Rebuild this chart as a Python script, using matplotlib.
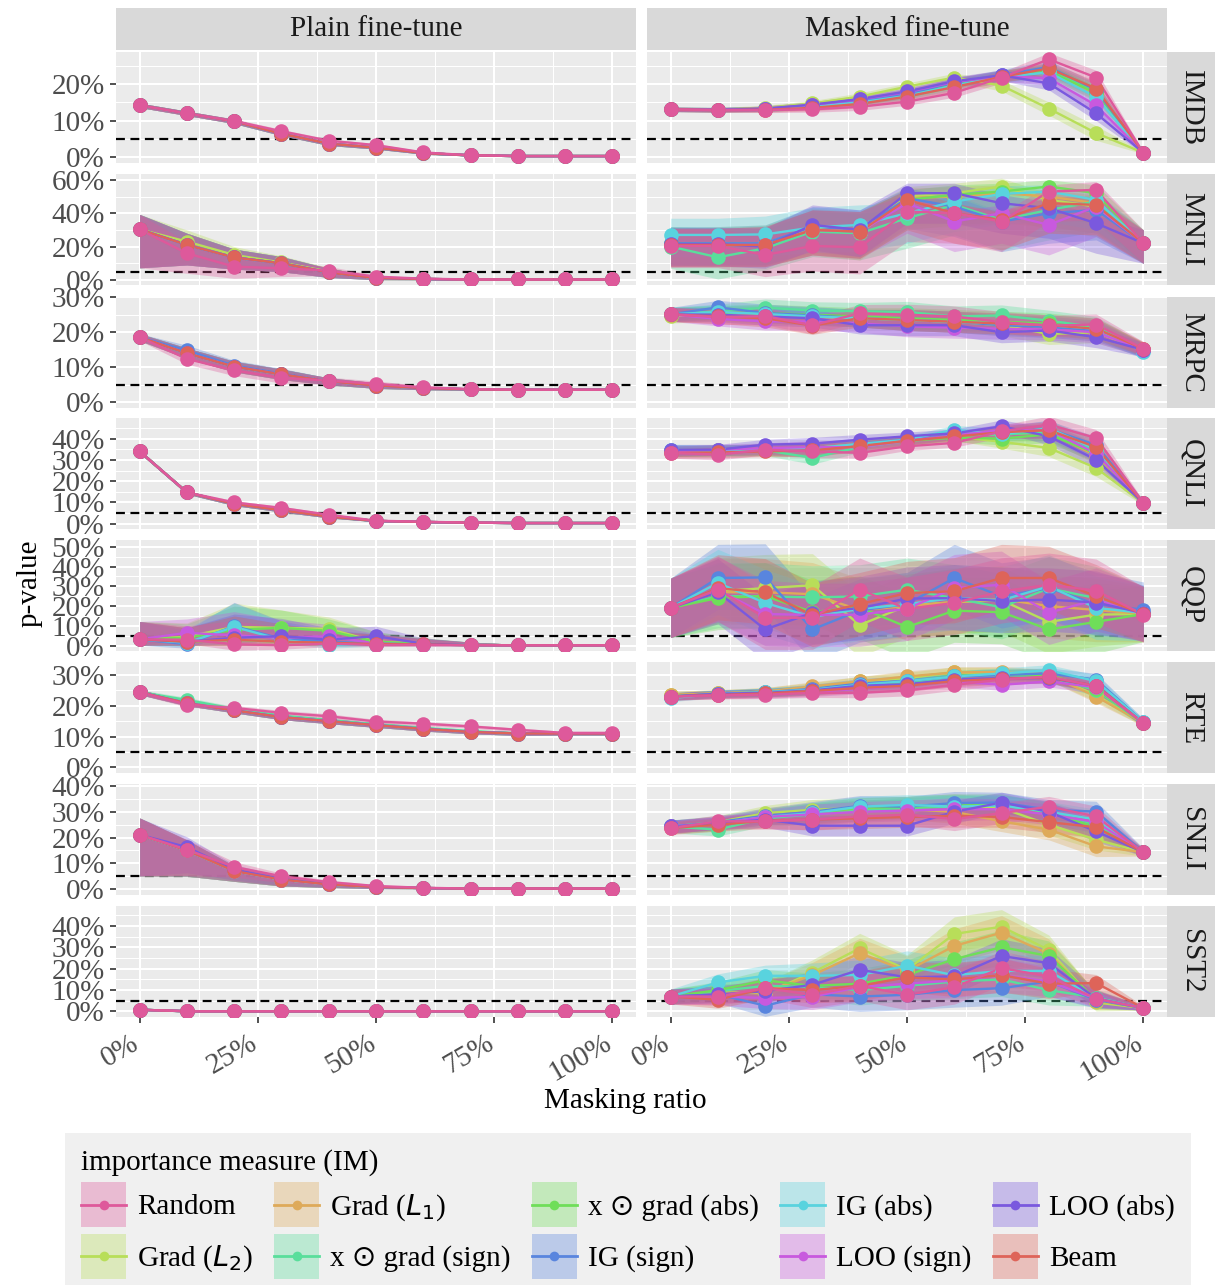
import matplotlib
matplotlib.use('Agg')
import matplotlib.pyplot as plt
import matplotlib.transforms as mtransforms
from matplotlib.patches import Rectangle
from matplotlib.lines import Line2D
from matplotlib.legend_handler import HandlerBase
from matplotlib.ticker import MultipleLocator, FuncFormatter

plt.rcParams['font.family'] = ['Liberation Serif', 'DejaVu Sans']
plt.rcParams['mathtext.fontset'] = 'dejavusans'

# ---- data (p-values in %) ----
masking = [0.0, 0.1, 0.2, 0.3, 0.4, 0.5, 0.6, 0.7, 0.8, 0.9, 1.0]
datasets = ['IMDB', 'MNLI', 'MRPC', 'QNLI', 'QQP', 'RTE', 'SNLI', 'SST2']

im_keys = ['random', 'grad_l2', 'grad_l1', 'xg_sign', 'xg_abs',
           'ig_sign', 'ig_abs', 'loo_sign', 'loo_abs', 'beam']
im_labels = ['Random', 'Grad ($L_2$)', 'Grad ($L_1$)', 'x \u2299 grad (sign)',
             'x \u2299 grad (abs)', 'IG (sign)', 'IG (abs)', 'LOO (sign)',
             'LOO (abs)', 'Beam']
im_colors = ['#DE599B', '#B8DE59', '#DEAA59', '#59DE9B', '#6FDE59',
             '#5985DE', '#59D3DE', '#C859DE', '#7A59DE', '#DE6459']

# plain fine-tune: all measures close to a common curve, a few deviate
plain_base = {
    'IMDB': [14.2, 12.0, 9.8, 6.4, 3.7, 2.6, 1.1, 0.5, 0.3, 0.3, 0.3],
    'MNLI': [30.3, 21.0, 13.5, 10.0, 4.5, 1.2, 0.6, 0.3, 0.3, 0.3, 0.3],
    'MRPC': [18.6, 14.0, 10.2, 8.0, 6.0, 4.8, 4.1, 3.7, 3.6, 3.6, 3.6],
    'QNLI': [34.0, 14.7, 9.3, 6.3, 3.3, 1.3, 0.8, 0.5, 0.3, 0.3, 0.3],
    'QQP': [3.2, 2.0, 3.0, 2.0, 1.5, 0.8, 0.6, 0.3, 0.2, 0.2, 0.2],
    'RTE': [24.4, 20.8, 18.5, 16.3, 15.0, 13.7, 12.5, 11.5, 11.0, 11.0, 11.0],
    'SNLI': [21.1, 15.0, 7.0, 3.7, 1.8, 0.8, 0.4, 0.2, 0.2, 0.2, 0.2],
    'SST2': [0.8, 0.1, 0.1, 0.1, 0.1, 0.1, 0.1, 0.1, 0.1, 0.1, 0.1],
}
plain_override = {
    'IMDB': {'random': [14.2, 12.0, 9.9, 7.1, 4.5, 3.3, 1.3, 0.5, 0.3, 0.3, 0.3]},
    'MNLI': {'random': [30.3, 16.0, 8.0, 7.0, 5.6, 2.0, 0.8, 0.3, 0.3, 0.3, 0.3],
             'grad_l2': [30.3, 23.0, 15.0, 10.5, 5.0, 1.0, 0.6, 0.3, 0.3, 0.3, 0.3]},
    'MRPC': {'random': [18.6, 12.4, 9.1, 7.0, 6.2, 5.3, 4.3, 3.8, 3.6, 3.6, 3.6],
             'ig_sign': [18.6, 14.8, 10.5, 8.2, 6.0, 4.8, 4.1, 3.7, 3.6, 3.6, 3.6]},
    'QNLI': {'random': [34.0, 14.7, 10.0, 7.4, 4.2, 1.4, 0.9, 0.5, 0.3, 0.3, 0.3]},
    'QQP': {'random': [3.2, 3.0, 0.7, 0.2, 1.0, 0.3, 0.3, 0.2, 0.2, 0.2, 0.2],
            'grad_l2': [3.2, 4.5, 9.5, 9.0, 8.5, 2.0, 1.0, 0.3, 0.2, 0.2, 0.2],
            'xg_abs': [3.2, 4.0, 8.0, 9.0, 7.5, 2.0, 0.8, 0.3, 0.2, 0.2, 0.2],
            'ig_sign': [3.2, 0.7, 9.9, 3.5, 2.0, 1.0, 0.6, 0.3, 0.2, 0.2, 0.2],
            'ig_abs': [3.2, 1.5, 9.5, 3.0, 0.2, 0.5, 0.5, 0.3, 0.2, 0.2, 0.2],
            'loo_sign': [3.2, 6.5, 5.2, 4.0, 4.8, 1.0, 0.6, 0.3, 0.2, 0.2, 0.2],
            'loo_abs': [3.2, 2.0, 4.0, 4.8, 3.0, 4.8, 1.0, 0.3, 0.2, 0.2, 0.2]},
    'RTE': {'random': [24.4, 20.4, 19.3, 17.7, 16.6, 14.9, 14.2, 13.3, 12.2, 11.2, 11.2],
            'xg_sign': [24.4, 21.9, 19.0, 16.8, 15.3, 14.0, 12.8, 11.8, 11.0, 11.0, 11.0]},
    'SNLI': {'random': [21.1, 15.3, 8.6, 5.0, 2.7, 1.2, 0.5, 0.2, 0.2, 0.2, 0.2],
             'loo_abs': [21.1, 16.3, 7.5, 3.9, 1.9, 0.8, 0.4, 0.2, 0.2, 0.2, 0.2]},
    'SST2': {},
}

imdb_masked = {
    'random': [13.1, 12.9, 12.9, 13.1, 13.8, 15.2, 17.6, 21.8, 26.8, 21.8, 1.2],
    'grad_l2': [13.1, 13.0, 13.5, 14.7, 16.6, 19.3, 21.8, 19.6, 13.3, 6.6, 1.2],
    'grad_l1': [13.1, 13.0, 13.3, 14.2, 15.6, 17.6, 20.6, 22.3, 23.8, 17.2, 1.2],
    'xg_sign': [13.1, 13.0, 13.2, 14.0, 15.3, 17.2, 20.2, 22.3, 23.9, 18.2, 1.2],
    'xg_abs': [13.1, 13.0, 13.2, 14.0, 15.3, 17.0, 20.0, 22.2, 23.5, 17.6, 1.2],
    'ig_sign': [13.1, 13.0, 13.2, 14.1, 15.4, 17.3, 20.4, 22.5, 24.7, 18.4, 1.2],
    'ig_abs': [13.1, 13.0, 13.2, 13.9, 15.0, 16.8, 19.6, 22.0, 23.2, 16.5, 1.2],
    'loo_sign': [13.1, 13.0, 13.3, 14.3, 15.8, 17.8, 20.6, 22.2, 21.6, 14.2, 1.2],
    'loo_abs': [13.1, 13.0, 13.3, 14.4, 15.9, 18.0, 20.8, 22.4, 20.2, 12.0, 1.2],
    'beam': [13.1, 12.9, 13.0, 13.5, 14.6, 16.6, 19.2, 22.0, 24.3, 18.8, 1.2],
}
mnli_masked = {
    'random': [20.4, 20.4, 15.0, 20.4, 19.6, 41.0, 40.0, 35.0, 53.0, 54.0, 22.0],
    'grad_l2': [21.5, 22.0, 22.0, 31.0, 29.0, 50.0, 52.0, 56.0, 48.0, 44.0, 22.0],
    'grad_l1': [21.0, 21.5, 21.5, 30.0, 28.0, 49.0, 50.0, 52.0, 50.0, 46.0, 22.0],
    'xg_sign': [20.0, 13.6, 19.0, 29.0, 28.0, 37.0, 45.0, 36.0, 42.0, 47.0, 22.0],
    'xg_abs': [22.0, 21.0, 21.0, 30.0, 29.0, 48.0, 51.0, 53.0, 56.0, 52.0, 22.0],
    'ig_sign': [22.0, 22.0, 22.0, 32.0, 30.0, 49.0, 44.0, 35.0, 40.0, 42.0, 22.0],
    'ig_abs': [27.0, 27.0, 27.3, 31.5, 33.0, 40.0, 47.0, 51.5, 53.0, 48.0, 22.0],
    'loo_sign': [21.0, 21.0, 21.0, 30.0, 29.0, 46.0, 35.0, 40.0, 33.0, 44.0, 22.0],
    'loo_abs': [21.5, 21.5, 20.0, 33.0, 30.0, 52.0, 52.0, 46.0, 43.0, 34.0, 22.0],
    'beam': [21.0, 21.0, 21.0, 30.0, 29.0, 48.0, 40.0, 36.0, 46.0, 45.0, 22.0],
}
mrpc_masked = {
    'random': [25.1, 24.3, 24.6, 22.0, 25.4, 25.0, 24.5, 22.9, 21.9, 22.2, 15.3],
    'grad_l2': [24.6, 25.2, 25.0, 24.5, 24.0, 23.5, 23.0, 22.0, 19.5, 20.0, 15.0],
    'grad_l1': [25.0, 25.5, 25.2, 24.6, 24.0, 23.5, 23.0, 22.4, 21.5, 20.5, 15.2],
    'xg_sign': [25.1, 26.0, 27.0, 26.2, 26.0, 25.8, 24.5, 24.8, 23.3, 21.5, 15.0],
    'xg_abs': [25.1, 25.6, 25.5, 25.0, 24.5, 24.0, 23.5, 23.0, 22.5, 21.0, 15.0],
    'ig_sign': [25.1, 27.1, 25.5, 24.8, 24.0, 23.5, 23.0, 22.0, 21.5, 20.5, 14.8],
    'ig_abs': [25.1, 25.8, 25.2, 24.5, 24.0, 23.5, 23.0, 22.5, 22.0, 21.0, 14.5],
    'loo_sign': [25.1, 23.8, 23.1, 23.1, 22.5, 21.7, 21.3, 21.0, 20.8, 20.0, 15.0],
    'loo_abs': [25.1, 25.0, 24.5, 24.0, 22.0, 22.0, 22.0, 20.0, 20.5, 18.6, 15.0],
    'beam': [25.1, 24.5, 24.0, 21.9, 24.0, 23.5, 23.0, 22.5, 22.0, 21.0, 15.3],
}
qnli_masked = {
    'random': [33.3, 32.5, 34.8, 34.0, 33.3, 36.4, 38.0, 43.4, 46.6, 40.3, 9.7],
    'grad_l2': [34.0, 34.5, 35.0, 35.0, 37.0, 39.0, 41.0, 38.5, 35.6, 26.2, 9.7],
    'grad_l1': [34.0, 34.5, 35.0, 35.5, 37.5, 39.0, 41.5, 42.0, 43.0, 32.0, 9.7],
    'xg_sign': [34.0, 34.0, 34.5, 31.0, 36.0, 39.0, 41.5, 42.0, 43.0, 34.0, 9.7],
    'xg_abs': [34.0, 34.5, 34.5, 34.5, 37.0, 39.0, 40.5, 40.0, 42.0, 33.0, 9.7],
    'ig_sign': [34.5, 34.5, 35.0, 35.0, 37.5, 39.5, 41.5, 43.0, 44.5, 37.0, 9.7],
    'ig_abs': [34.8, 34.5, 35.0, 35.5, 37.5, 39.5, 44.2, 42.0, 44.9, 35.0, 9.7],
    'loo_sign': [34.0, 34.8, 35.5, 36.0, 36.0, 39.0, 41.5, 44.0, 44.0, 33.0, 9.7],
    'loo_abs': [34.8, 34.8, 37.2, 37.6, 39.5, 41.1, 42.5, 45.8, 41.1, 30.1, 9.7],
    'beam': [33.3, 33.5, 34.0, 34.5, 36.5, 39.0, 41.0, 43.0, 44.0, 36.0, 9.7],
}
qqp_masked = {
    'random': [19.1, 28.3, 14.1, 14.1, 28.3, 18.6, 21.6, 27.4, 30.8, 27.8, 15.7],
    'grad_l2': [19.1, 27.5, 29.1, 30.5, 10.4, 20.2, 22.0, 23.0, 12.0, 15.7, 16.0],
    'grad_l1': [19.1, 27.0, 27.0, 26.0, 18.0, 20.0, 22.0, 23.5, 20.0, 18.0, 16.0],
    'xg_sign': [19.1, 25.0, 24.9, 24.4, 24.9, 28.3, 24.0, 19.4, 29.0, 24.0, 16.0],
    'xg_abs': [19.1, 24.1, 25.0, 17.0, 19.4, 9.4, 17.7, 16.9, 8.2, 12.0, 16.0],
    'ig_sign': [19.1, 34.2, 34.5, 8.2, 17.8, 21.0, 34.2, 24.9, 29.1, 21.0, 18.2],
    'ig_abs': [19.1, 31.7, 21.6, 14.5, 18.6, 21.0, 24.1, 22.9, 30.0, 19.1, 16.5],
    'loo_sign': [19.1, 28.0, 16.0, 15.5, 15.7, 18.6, 29.1, 30.8, 16.6, 23.3, 16.0],
    'loo_abs': [19.1, 27.0, 8.2, 16.6, 19.0, 23.8, 24.0, 22.5, 23.3, 21.8, 16.5],
    'beam': [19.1, 29.0, 27.0, 15.5, 21.0, 26.6, 27.5, 34.2, 34.2, 25.0, 16.0],
}
rte_masked = {
    'random': [23.0, 23.4, 23.6, 24.2, 24.2, 25.0, 26.8, 28.5, 29.5, 26.3, 14.4],
    'grad_l2': [23.5, 24.0, 24.6, 26.0, 27.9, 29.0, 30.8, 30.5, 30.0, 23.5, 14.4],
    'grad_l1': [23.5, 24.0, 24.6, 26.3, 27.9, 29.5, 30.8, 31.0, 30.0, 23.0, 14.4],
    'xg_sign': [23.0, 23.8, 24.2, 25.0, 26.5, 27.5, 29.5, 30.0, 29.5, 25.0, 14.4],
    'xg_abs': [23.0, 23.8, 24.2, 25.2, 26.8, 27.8, 29.8, 30.2, 30.0, 25.5, 14.4],
    'ig_sign': [23.0, 23.9, 24.4, 25.5, 27.2, 28.0, 29.5, 30.0, 30.5, 28.5, 14.8],
    'ig_abs': [22.5, 23.9, 24.4, 25.2, 26.8, 28.0, 29.5, 30.5, 31.5, 28.0, 14.8],
    'loo_sign': [23.0, 23.5, 23.8, 24.5, 25.5, 26.5, 28.0, 26.8, 27.9, 26.0, 14.4],
    'loo_abs': [23.0, 23.9, 24.2, 25.0, 26.5, 27.0, 28.5, 29.0, 29.0, 26.5, 14.4],
    'beam': [23.0, 23.5, 24.0, 24.8, 25.8, 26.5, 28.0, 28.8, 29.2, 26.5, 14.4],
}
snli_masked = {
    'random': [23.7, 26.3, 26.3, 27.0, 28.2, 28.9, 27.2, 29.5, 32.0, 28.2, 14.3],
    'grad_l2': [24.3, 26.0, 29.5, 30.8, 31.5, 32.0, 32.5, 31.5, 25.0, 19.2, 14.3],
    'grad_l1': [24.3, 25.5, 28.5, 29.5, 30.5, 31.0, 30.0, 26.3, 23.1, 16.6, 14.3],
    'xg_sign': [24.3, 23.1, 27.5, 29.0, 30.5, 31.5, 32.0, 32.5, 30.0, 25.0, 14.3],
    'xg_abs': [24.3, 25.0, 28.0, 29.5, 31.5, 32.0, 32.5, 33.0, 29.5, 24.0, 14.3],
    'ig_sign': [24.3, 26.0, 28.5, 30.0, 32.3, 32.0, 33.4, 33.6, 30.8, 30.1, 14.3],
    'ig_abs': [24.3, 25.5, 28.0, 29.5, 32.0, 32.7, 32.0, 32.5, 30.0, 27.0, 14.3],
    'loo_sign': [24.3, 25.5, 28.0, 29.0, 30.0, 30.5, 31.0, 31.0, 29.0, 26.0, 14.3],
    'loo_abs': [24.3, 25.5, 27.0, 24.6, 24.6, 24.6, 30.0, 33.6, 30.0, 22.4, 14.3],
    'beam': [23.7, 25.0, 26.5, 27.0, 27.5, 28.0, 28.5, 28.0, 26.0, 24.0, 14.3],
}
sst2_masked = {
    'random': [7.0, 7.0, 10.9, 7.8, 12.0, 7.8, 11.4, 20.3, 16.4, 6.0, 1.6],
    'grad_l2': [7.0, 9.0, 8.5, 18.2, 29.6, 19.5, 36.3, 39.7, 28.8, 4.2, 1.6],
    'grad_l1': [7.0, 8.5, 9.0, 17.0, 27.3, 19.0, 30.7, 36.9, 27.0, 5.0, 1.6],
    'xg_sign': [7.0, 9.5, 12.0, 11.5, 10.0, 12.0, 14.0, 15.0, 10.0, 6.5, 1.6],
    'xg_abs': [7.0, 10.0, 14.6, 12.0, 13.0, 17.0, 24.5, 30.1, 26.0, 5.5, 1.6],
    'ig_sign': [7.0, 8.0, 2.7, 8.0, 7.0, 7.8, 10.0, 10.9, 14.0, 5.5, 1.6],
    'ig_abs': [7.0, 13.6, 16.7, 16.7, 17.1, 21.4, 17.0, 19.0, 19.0, 6.0, 1.6],
    'loo_sign': [7.0, 7.0, 6.3, 6.9, 11.5, 13.0, 14.5, 17.0, 14.0, 6.0, 1.6],
    'loo_abs': [7.0, 8.0, 9.5, 12.5, 19.5, 16.0, 16.4, 26.0, 22.6, 6.0, 1.6],
    'beam': [7.0, 5.5, 10.9, 10.0, 12.0, 16.0, 15.0, 17.0, 13.0, 13.3, 1.6],
}
masked = {'IMDB': imdb_masked, 'MNLI': mnli_masked, 'MRPC': mrpc_masked,
          'QNLI': qnli_masked, 'QQP': qqp_masked, 'RTE': rte_masked,
          'SNLI': snli_masked, 'SST2': sst2_masked}

# ribbon extent below / above the mean, per panel
plain_lo = {
    'IMDB': [0.6, 0.6, 0.6, 0.5, 0.5, 0.4, 0.3, 0.2, 0.1, 0.1, 0.1],
    'MNLI': [23.0, 12.0, 7.0, 5.0, 3.0, 1.0, 0.5, 0.2, 0.2, 0.2, 0.2],
    'MRPC': [1.0, 1.5, 1.5, 1.5, 1.0, 0.8, 0.5, 0.3, 0.2, 0.2, 0.2],
    'QNLI': [0.8, 0.8, 0.8, 0.8, 0.6, 0.4, 0.3, 0.2, 0.1, 0.1, 0.1],
    'QQP': [3.0, 2.0, 3.0, 2.0, 1.5, 0.8, 0.6, 0.3, 0.2, 0.2, 0.2],
    'RTE': [0.8, 0.8, 0.8, 0.8, 0.8, 0.7, 0.7, 0.6, 0.6, 0.5, 0.5],
    'SNLI': [16.0, 10.0, 4.0, 2.5, 1.2, 0.6, 0.3, 0.1, 0.1, 0.1, 0.1],
    'SST2': [0.3, 0.1, 0.1, 0.1, 0.1, 0.1, 0.1, 0.1, 0.1, 0.1, 0.1],
}
plain_hi = {
    'IMDB': [0.6, 0.6, 0.6, 0.5, 0.5, 0.4, 0.3, 0.2, 0.1, 0.1, 0.1],
    'MNLI': [9.0, 7.0, 5.0, 4.0, 2.5, 1.0, 0.5, 0.2, 0.2, 0.2, 0.2],
    'MRPC': [1.0, 1.5, 1.5, 1.5, 1.0, 0.8, 0.5, 0.3, 0.2, 0.2, 0.2],
    'QNLI': [0.8, 0.8, 0.8, 0.8, 0.6, 0.4, 0.3, 0.2, 0.1, 0.1, 0.1],
    'QQP': [9.0, 7.0, 12.0, 9.0, 6.0, 5.0, 3.0, 1.5, 0.5, 0.3, 0.3],
    'RTE': [0.8, 0.8, 0.8, 0.8, 0.8, 0.7, 0.7, 0.6, 0.6, 0.5, 0.5],
    'SNLI': [6.5, 4.0, 2.0, 1.2, 0.8, 0.5, 0.3, 0.1, 0.1, 0.1, 0.1],
    'SST2': [0.3, 0.1, 0.1, 0.1, 0.1, 0.1, 0.1, 0.1, 0.1, 0.1, 0.1],
}
masked_lo = {
    'IMDB': [0.6, 0.6, 0.7, 0.8, 1.0, 1.0, 1.2, 1.5, 1.8, 2.0, 0.3],
    'MNLI': [13.0, 13.0, 13.0, 15.0, 16.0, 18.0, 18.0, 18.0, 18.0, 18.0, 12.0],
    'MRPC': [2.0, 2.0, 2.5, 2.5, 2.5, 3.0, 3.0, 3.0, 3.0, 3.0, 2.0],
    'QNLI': [2.5, 2.5, 2.5, 3.0, 2.5, 2.0, 2.0, 3.0, 4.0, 4.0, 1.0],
    'QQP': [15.0, 16.0, 16.0, 16.0, 16.0, 16.0, 16.0, 16.0, 16.0, 16.0, 14.0],
    'RTE': [1.2, 1.2, 1.3, 1.5, 1.6, 1.8, 1.8, 1.8, 1.8, 2.0, 1.0],
    'SNLI': [2.5, 2.5, 3.0, 4.0, 4.0, 4.0, 4.5, 4.0, 4.0, 4.0, 1.5],
    'SST2': [3.5, 4.0, 5.0, 6.0, 7.0, 7.0, 8.0, 8.0, 7.0, 4.0, 1.0],
}
masked_hi = {
    'IMDB': [0.6, 0.6, 0.7, 0.8, 1.0, 1.0, 1.2, 1.5, 1.8, 2.0, 0.3],
    'MNLI': [10.0, 10.0, 11.0, 12.0, 12.0, 6.0, 6.0, 5.0, 4.0, 5.0, 8.0],
    'MRPC': [2.0, 2.0, 2.5, 2.5, 2.5, 3.0, 3.0, 3.0, 3.0, 3.0, 2.0],
    'QNLI': [2.5, 2.5, 2.5, 3.0, 2.5, 2.0, 2.0, 3.0, 4.0, 4.0, 1.0],
    'QQP': [15.0, 17.0, 17.0, 16.0, 16.0, 16.0, 17.0, 17.0, 16.0, 16.0, 14.0],
    'RTE': [1.2, 1.2, 1.3, 1.5, 1.6, 1.8, 1.8, 1.8, 1.8, 2.0, 1.0],
    'SNLI': [2.5, 2.5, 3.0, 4.0, 4.0, 4.0, 4.5, 4.0, 4.0, 4.0, 1.5],
    'SST2': [3.5, 4.0, 5.0, 6.0, 7.0, 7.0, 8.0, 8.0, 7.0, 4.0, 1.0],
}

y_limits = {'IMDB': (-1.6, 28.8), 'MNLI': (-3.0, 63.5), 'MRPC': (-1.6, 30.05),
            'QNLI': (-2.5, 49.7), 'QQP': (-2.7, 53.4), 'RTE': (-1.8, 34.2),
            'SNLI': (-2.3, 40.8), 'SST2': (-2.6, 49.4)}
y_steps = {'IMDB': 10, 'MNLI': 20, 'MRPC': 10, 'QNLI': 10, 'QQP': 10,
           'RTE': 10, 'SNLI': 10, 'SST2': 10}
columns = ['Plain fine-tune', 'Masked fine-tune']
threshold = 5.0

# ---- layout (pixels) ----
W, H = 1215, 1285
FS = 21


def box(x0, y0, w, h):
    return [x0 / W, 1 - (y0 + h) / H, w / W, h / H]


fig = plt.figure(figsize=(W / 100, H / 100), dpi=100)
col_left = [116, 647]
row_top = [52, 174, 297, 418, 540, 662, 784, 906]
pw, ph = 520, 111

draw_order = im_keys[1:] + im_keys[:1]  # Random ends up on top
color_of = dict(zip(im_keys, im_colors))
xlab_shift = mtransforms.ScaledTranslation(-9 / 100, -2 / 100, fig.dpi_scale_trans)

for r, ds in enumerate(datasets):
    for c in range(2):
        ax = fig.add_axes(box(col_left[c], row_top[r], pw, ph))
        ax.set_facecolor('#EBEBEB')
        for s in ax.spines.values():
            s.set_visible(False)
        ax.set_xlim(-0.05, 1.05)
        ax.set_ylim(*y_limits[ds])
        ax.xaxis.set_major_locator(MultipleLocator(0.25))
        ax.xaxis.set_minor_locator(MultipleLocator(0.125))
        ax.yaxis.set_major_locator(MultipleLocator(y_steps[ds]))
        ax.yaxis.set_minor_locator(MultipleLocator(y_steps[ds] / 2))
        ax.xaxis.set_major_formatter(FuncFormatter(lambda v, p: f'{v * 100:.0f}%'))
        ax.yaxis.set_major_formatter(FuncFormatter(lambda v, p: f'{v:.0f}%'))
        ax.grid(which='major', color='white', lw=1.5)
        ax.grid(which='minor', color='white', lw=0.75)
        ax.set_axisbelow(True)
        ax.tick_params(which='minor', length=0)
        ax.tick_params(which='major', length=4, width=1.2, color='#333333',
                       labelsize=FS, labelcolor='#4D4D4D', pad=4)
        if c == 1:
            ax.tick_params(axis='y', left=False, labelleft=False)
        if r < len(datasets) - 1:
            ax.tick_params(axis='x', bottom=False, labelbottom=False)
        else:
            for lab in ax.get_xticklabels():
                lab.set_rotation(30)
                lab.set_ha('right')
                lab.set_va('top')
                lab.set_rotation_mode('anchor')
                lab.set_transform(lab.get_transform() + xlab_shift)

        ax.axhline(threshold, color='black', lw=1.6, ls=(0, (4, 2.5)), zorder=1.5)

        if c == 0:
            series = {k: plain_override[ds].get(k, plain_base[ds]) for k in im_keys}
            lo, hi = plain_lo[ds], plain_hi[ds]
        else:
            series = masked[ds]
            lo, hi = masked_lo[ds], masked_hi[ds]

        for k in draw_order:
            v = series[k]
            ax.fill_between(masking, [a - b for a, b in zip(v, lo)],
                            [a + b for a, b in zip(v, hi)],
                            color=color_of[k], alpha=0.33, lw=0, zorder=2)
        for k in draw_order:
            ax.plot(masking, series[k], color=color_of[k], lw=1.7, zorder=3)
        for k in draw_order:
            ax.plot(masking, series[k], ls='none', marker='o', ms=10.5,
                    mec='none', color=color_of[k], zorder=4)

    # row strip
    sax = fig.add_axes(box(1167, row_top[r], 48, ph))
    sax.set_facecolor('#D9D9D9')
    sax.set_xticks([])
    sax.set_yticks([])
    for s in sax.spines.values():
        s.set_visible(False)
    sax.text(0.5, 0.5, ds, rotation=-90, ha='center', va='center',
             fontsize=FS, color='#1A1A1A', transform=sax.transAxes)

for c, name in enumerate(columns):
    sax = fig.add_axes(box(col_left[c], 8, pw, 42))
    sax.set_facecolor('#D9D9D9')
    sax.set_xticks([])
    sax.set_yticks([])
    for s in sax.spines.values():
        s.set_visible(False)
    sax.text(0.5, 0.5, name, ha='center', va='center', fontsize=FS,
             color='#1A1A1A', transform=sax.transAxes)

fig.text(30 / W, 1 - 583 / H, 'p-value', rotation=90, ha='center',
         va='center', fontsize=FS)
fig.text(625 / W, 1 - 1101 / H, 'Masking ratio', ha='center', va='center',
         fontsize=FS)


# legend key: ribbon square with the line and point through its middle
class Key:
    def __init__(self, color):
        self.color = color


class KeyHandler(HandlerBase):
    def create_artists(self, legend, orig_handle, xdescent, ydescent,
                       width, height, fontsize, trans):
        col = orig_handle.color
        yc = -ydescent + height / 2
        rect = Rectangle((-xdescent, -ydescent), width, height, facecolor=col,
                         alpha=0.35, lw=0, transform=trans)
        line = Line2D([-xdescent, -xdescent + width], [yc, yc], color=col,
                      lw=2, transform=trans)
        dot = Line2D([-xdescent + width / 2], [yc], ls='none', marker='o',
                     ms=7, color=col, mec='none', transform=trans)
        return [rect, line, dot]


handles = [Key(col) for col in im_colors]
leg = fig.legend(handles, im_labels, ncol=5, loc='upper left',
                 bbox_to_anchor=(65 / W, 1 - 1133 / H),
                 handler_map={Key: KeyHandler()},
                 fontsize=FS, title='importance measure (IM)', title_fontsize=FS,
                 alignment='left', frameon=True, fancybox=False,
                 handlelength=1.55, handleheight=2.0, labelspacing=0.22,
                 columnspacing=0.72, handletextpad=0.38, borderpad=0.55,
                 borderaxespad=0)
leg.get_frame().set_facecolor('#F0F0F0')
leg.get_frame().set_edgecolor('none')
leg.get_frame().set_alpha(1)

fig.savefig('out.png', dpi=100)
